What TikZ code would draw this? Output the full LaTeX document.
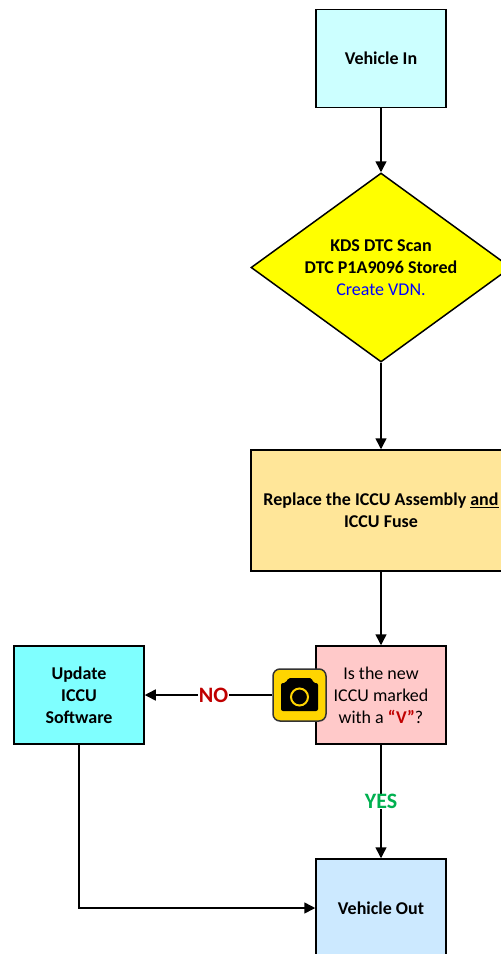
\documentclass[tikz,border=0pt]{standalone}
\usepackage{fontspec}
\setmainfont{Carlito}
\usetikzlibrary{shapes.geometric,arrows.meta}
\definecolor{cIn}{HTML}{CCFFFF}
\definecolor{cDia}{HTML}{FFFF00}
\definecolor{cBlue}{HTML}{0000FF}
\definecolor{cRep}{HTML}{FFE699}
\definecolor{cPink}{HTML}{FFC9C9}
\definecolor{cUpd}{HTML}{7FFFFF}
\definecolor{cOut}{HTML}{CCE9FF}
\definecolor{cRed}{HTML}{C00000}
\definecolor{cGreen}{HTML}{00B050}
\definecolor{cCam}{HTML}{FFD500}
\tikzset{
  x=1pt,y=-1pt,
  flowbox/.style={draw=black,line width=1.5pt,align=center,inner sep=0pt,
    font=\fontsize{18}{22}\selectfont\bfseries},
  smallbox/.style={flowbox,minimum width=130pt,minimum height=98pt},
  conn/.style={draw=black,line width=1.5pt,-{Triangle[length=11pt,width=11pt]}},
  answer/.style={fill=white,inner sep=0.5pt,font=\fontsize{22}{24}\selectfont\bfseries},
}
\begin{document}
\begin{tikzpicture}
\useasboundingbox (0,0) rectangle (501,954);
\node[smallbox,fill=cIn] (in) at (381,58.5) {Vehicle In};
\node[draw=black,line width=1.5pt,fill=cDia,shape=diamond,shape aspect=1.376,
  minimum width=260pt,minimum height=189pt,inner sep=0pt,align=center,
  font=\fontsize{18}{22}\selectfont] (scan) at (381,267.5)
  {\textbf{KDS DTC Scan}\\\textbf{DTC P1A9096 Stored}\\\textcolor{cBlue}{Create VDN.}};
\node[flowbox,fill=cRep,minimum width=260pt,minimum height=121pt] (rep) at (381,510.5)
  {Replace the ICCU Assembly \underline{and}\\ICCU Fuse};
\node[smallbox,fill=cPink,font=\fontsize{18}{22}\selectfont] (new) at (381,695)
  {Is the new\\ICCU marked\\with a \textcolor{cRed}{\textbf{“V”}}?};
\node[smallbox,fill=cUpd] (upd) at (79,695) {Update\\ICCU\\Software};
\node[smallbox,fill=cOut] (out) at (381,908) {Vehicle Out};
\node[draw=black!80,line width=1.5pt,fill=cCam,rounded corners=7pt,
  minimum width=53pt,minimum height=52pt,inner sep=0pt] (cam) at (299.5,695) {};
\fill[black,rounded corners=2pt] (281,683) -- (286,683) -- (288,678) -- (312,678) -- (313,683) -- (318,683) -- (318,711) -- (281,711) -- cycle;
\draw[cCam,line width=2pt] (299.5,697) circle (8.5);
\draw[conn] (in) -- (scan);
\draw[conn] (scan) -- (rep);
\draw[conn] (rep) -- (new);
\draw[conn] (cam) -- node[answer,text=cRed,pos=0.46] (no) {NO} (upd);
\draw[conn] (new) -- node[answer,text=cGreen] (yes) {YES} (out);
\draw[conn] (upd.south) |- (out.west);
\end{tikzpicture}
\end{document}
